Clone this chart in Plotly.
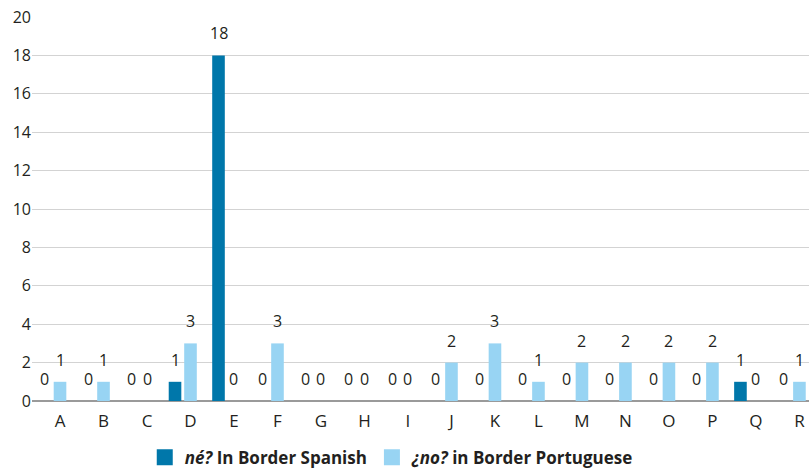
import plotly.graph_objects as go

# Categories and counts for the two discourse markers
categories = list("ABCDEFGHIJKLMNOPQR")
ne_spanish = [0, 0, 0, 1, 18, 0, 0, 0, 0, 0, 0, 0, 0, 0, 0, 0, 1, 0]
no_portuguese = [1, 1, 0, 3, 0, 3, 0, 0, 0, 2, 3, 1, 2, 2, 2, 2, 0, 1]
y_ticks = [0, 2, 4, 6, 8, 10, 12, 14, 16, 18, 20]

DARK = "#0077aa"
LIGHT = "#98d4f3"
TEXT = "#231f20"
FONT = "Open Sans"

x_pos = list(range(len(categories)))
bar_w = 0.29
dark_shift = -0.356  # dark bar sits left of the category centre

fig = go.Figure()
fig.add_trace(go.Bar(
    x=x_pos, y=ne_spanish, width=bar_w, offset=dark_shift - bar_w / 2,
    marker=dict(color=DARK, line=dict(width=0)), showlegend=False,
))
fig.add_trace(go.Bar(
    x=x_pos, y=no_portuguese, width=bar_w, offset=-bar_w / 2,
    marker=dict(color=LIGHT, line=dict(width=0)), showlegend=False,
))

# Legend entries
fig.add_trace(go.Scatter(
    x=[None], y=[None], mode="markers", name="<b><i>né?</i> In Border Spanish</b>",
    marker=dict(symbol="square", size=16, color=DARK),
))
fig.add_trace(go.Scatter(
    x=[None], y=[None], mode="markers", name="<b><i>¿no?</i> in Border Portuguese</b>",
    marker=dict(symbol="square", size=16, color=LIGHT),
))

# Value labels above each bar
annotations = []
for i in x_pos:
    for val, shift in ((ne_spanish[i], dark_shift), (no_portuguese[i], 0.0)):
        annotations.append(dict(
            x=i + shift, y=val, xref="x", yref="y", text=str(val),
            showarrow=False, yanchor="bottom", yshift=9,
            font=dict(family=FONT, size=16, color=TEXT),
        ))

fig.update_layout(
    width=809, height=469,
    margin=dict(l=32, r=0, t=17, b=68),
    paper_bgcolor="white", plot_bgcolor="white",
    font=dict(family=FONT, size=16, color=TEXT),
    barmode="overlay",
    annotations=annotations,
    legend=dict(
        orientation="h", x=0.463, xanchor="center",
        yref="container", y=0.024, yanchor="middle",
        font=dict(family=FONT, size=17, color=TEXT), itemwidth=30,
        tracegroupgap=0,
    ),
    xaxis=dict(
        range=[-0.644, 17.22], tickmode="array", tickvals=x_pos, ticktext=categories,
        showgrid=False, zeroline=False, ticks="outside", ticklen=5,
        tickcolor="rgba(0,0,0,0)", tickfont=dict(size=17, family=FONT, color=TEXT),
        fixedrange=True,
    ),
    yaxis=dict(
        range=[0, 20], tickmode="array", tickvals=y_ticks,
        showgrid=True, gridcolor="#d3d3d3", gridwidth=1,
        zeroline=True, zerolinecolor="#9a9a9a", zerolinewidth=2,
        ticks="", tickfont=dict(size=16, family=FONT, color=TEXT),
        fixedrange=True,
    ),
)

fig.write_html("out.html")
